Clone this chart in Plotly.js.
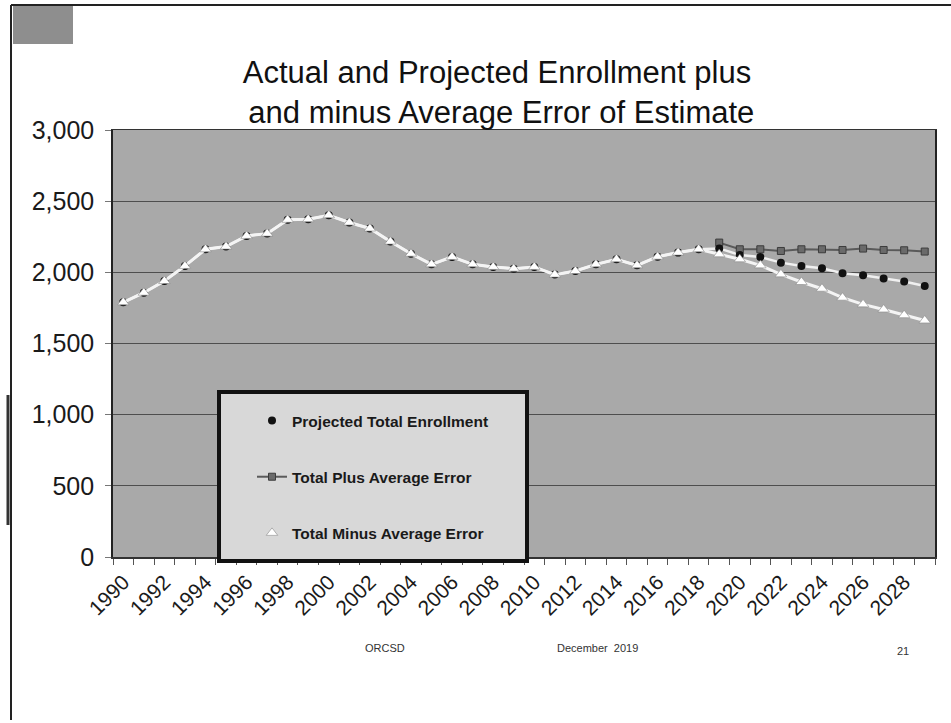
<!DOCTYPE html>
<html>
<head>
<meta charset="utf-8">
<script src="https://cdn.plot.ly/plotly-3.0.1.min.js"></script>
<style>
  html, body { margin: 0; padding: 0; background: #ffffff; overflow: hidden; }
  #chart { width: 951px; height: 723px; }
</style>
</head>
<body>
<div id="chart"></div>
<script>
// School years shown on the category axis
const years = [
  1990, 1991, 1992, 1993, 1994, 1995, 1996, 1997, 1998, 1999,
  2000, 2001, 2002, 2003, 2004, 2005, 2006, 2007, 2008, 2009,
  2010, 2011, 2012, 2013, 2014, 2015, 2016, 2017, 2018, 2019,
  2020, 2021, 2022, 2023, 2024, 2025, 2026, 2027, 2028, 2029
];

// Actual enrollment through 2018, projected total afterwards
const projectedTotal = [
  1789, 1857, 1939, 2045, 2162, 2181, 2256, 2272, 2369, 2373,
  2401, 2350, 2308, 2216, 2131, 2056, 2108, 2056, 2038, 2026,
  2038, 1984, 2009, 2056, 2092, 2049, 2110, 2139, 2162, 2168,
  2122, 2108, 2068, 2045, 2028, 1993, 1979, 1956, 1935, 1904
];

// Projection plus the average error of estimate (projection years only)
const totalPlusError = [
  null, null, null, null, null, null, null, null, null, null,
  null, null, null, null, null, null, null, null, null, null,
  null, null, null, null, null, null, null, null, null, 2209,
  2162, 2162, 2150, 2162, 2162, 2157, 2167, 2157, 2155, 2146
];

// Projection minus the average error of estimate (history equals actual)
const totalMinusError = [
  1789, 1857, 1939, 2045, 2162, 2181, 2256, 2272, 2369, 2373,
  2401, 2350, 2308, 2216, 2131, 2056, 2108, 2056, 2038, 2026,
  2038, 1984, 2009, 2056, 2092, 2049, 2110, 2139, 2162, 2127,
  2092, 2049, 1986, 1932, 1885, 1822, 1775, 1739, 1699, 1662
];

// Every other year gets a label, every year gets a tick
const tickLabels = years.map((y, i) => (i % 2 === 0 ? String(y) : ''));

const seriesNames = [
  'Projected Total Enrollment',
  'Total Plus Average Error',
  'Total Minus Average Error'
];

const footerLeft = 'ORCSD';
const footerMid = 'December  2019';
const footerRight = '21';

const cats = years.map(String);

// Plot area in page pixels, used to place the slide decorations
const W = 951, H = 723;
const M = { l: 113, r: 16, t: 130, b: 166, pad: 0 };
const px = x => (x - M.l) / (W - M.l - M.r);
const py = y => (H - M.b - y) / (H - M.t - M.b);

const traces = [
  // connecting lines drawn underneath the markers
  {
    x: cats, y: projectedTotal, type: 'scatter', mode: 'lines',
    showlegend: false, hoverinfo: 'skip',
    line: { color: '#f0f0f0', width: 2.5 }
  },
  {
    x: cats, y: totalPlusError, name: seriesNames[1],
    type: 'scatter', mode: 'lines+markers', legendrank: 2,
    legendgroup: 'b',
    line: { color: '#5a5a5a', width: 2 },
    marker: { symbol: 'square', size: 7, color: '#6a6a6a',
              line: { color: '#3c3c3c', width: 1 } }
  },
  {
    x: cats, y: projectedTotal, name: seriesNames[0],
    type: 'scatter', mode: 'markers', legendrank: 1,
    legendgroup: 'a',
    marker: { symbol: 'circle', size: 8, color: '#111111' }
  },
  {
    x: cats, y: totalMinusError, type: 'scatter', mode: 'lines',
    showlegend: false, hoverinfo: 'skip',
    line: { color: '#f4f4f4', width: 3 }
  },
  {
    x: cats, y: totalMinusError, name: seriesNames[2],
    type: 'scatter', mode: 'markers', legendrank: 3,
    legendgroup: 'c',
    marker: { symbol: 'triangle-up', size: 10, color: '#ffffff',
              line: { color: '#8a8a8a', width: 0.6 } }
  }
];

const layout = {
  width: W, height: H,
  margin: M,
  paper_bgcolor: '#ffffff',
  plot_bgcolor: '#a9a9a9',
  font: { family: 'Liberation Sans, Arial, sans-serif', color: '#1a1a1a' },
  title: {
    text: 'Actual and Projected Enrollment plus<br> and minus Average Error of Estimate',
    font: { size: 31, color: '#111111', family: 'Liberation Sans, Arial, sans-serif' },
    xref: 'container', yref: 'container',
    x: 497 / W, xanchor: 'center',
    y: 1 - 83 / H, yanchor: 'top',
    automargin: false
  },
  xaxis: {
    type: 'category',
    range: [-0.5, years.length - 0.5], autorange: false,
    automargin: false,
    tickmode: 'array', tickvals: cats, ticktext: tickLabels,
    tickson: 'boundaries',
    ticks: 'outside', ticklen: 6, tickcolor: '#555555', tickwidth: 1,
    tickangle: -45,
    ticklabelstandoff: 3,
    tickfont: { size: 21, color: '#1a1a1a' },
    showgrid: false,
    showline: true, linecolor: '#333333', linewidth: 1.5, mirror: true,
    fixedrange: true
  },
  yaxis: {
    range: [0, 3000], autorange: false, dtick: 500, tick0: 0,
    automargin: false,
    tickformat: ',d',
    ticks: 'outside', ticklen: 6, tickcolor: '#777777',
    ticklabelstandoff: 6,
    tickfont: { size: 25, color: '#1a1a1a' },
    showgrid: true, gridcolor: '#4e4e4e', gridwidth: 1.2,
    zeroline: false,
    showline: true, linecolor: '#222222', linewidth: 1.8, mirror: true,
    fixedrange: true
  },
  showlegend: true,
  legend: {
    x: px(252), xanchor: 'left',
    y: py(404), yanchor: 'top',
    bgcolor: 'rgba(0,0,0,0)', borderwidth: 0,
    tracegroupgap: 33,
    font: { size: 15.5, color: '#1a1a1a', family: 'Liberation Sans, Arial, sans-serif', weight: 'bold' }
  },
  shapes: [
    // legend panel
    { type: 'rect', xref: 'paper', yref: 'paper', layer: 'above',
      x0: px(219), x1: px(527), y0: py(561), y1: py(392),
      fillcolor: '#d8d8d8', line: { color: '#111111', width: 4 } },
    // slide frame
    { type: 'line', xref: 'paper', yref: 'paper',
      x0: px(11), x1: px(11), y0: py(720), y1: py(5),
      line: { color: '#222222', width: 2 } },
    { type: 'line', xref: 'paper', yref: 'paper',
      x0: px(11), x1: px(951), y0: py(5), y1: py(5),
      line: { color: '#222222', width: 2 } },
    { type: 'line', xref: 'paper', yref: 'paper',
      x0: px(8), x1: px(8), y0: py(525), y1: py(395),
      line: { color: '#333333', width: 3 } },
    // corner tab
    { type: 'rect', xref: 'paper', yref: 'paper',
      x0: px(13), x1: px(73), y0: py(44), y1: py(6),
      fillcolor: '#8e8e8e', line: { width: 0 } }
  ],
  annotations: [
    { text: footerLeft, xref: 'paper', yref: 'paper', x: px(385), y: py(648),
      xanchor: 'center', yanchor: 'middle',
      showarrow: false, font: { size: 11, color: '#333333' } },
    { text: footerMid, xref: 'paper', yref: 'paper', x: px(597), y: py(648),
      xanchor: 'center', yanchor: 'middle',
      showarrow: false, font: { size: 11, color: '#333333' } },
    { text: footerRight, xref: 'paper', yref: 'paper', x: px(903), y: py(651),
      xanchor: 'center', yanchor: 'middle',
      showarrow: false, font: { size: 11, color: '#333333' } }
  ]
};

Plotly.newPlot('chart', traces, layout, { displayModeBar: false, staticPlot: true });
</script>
</body>
</html>
